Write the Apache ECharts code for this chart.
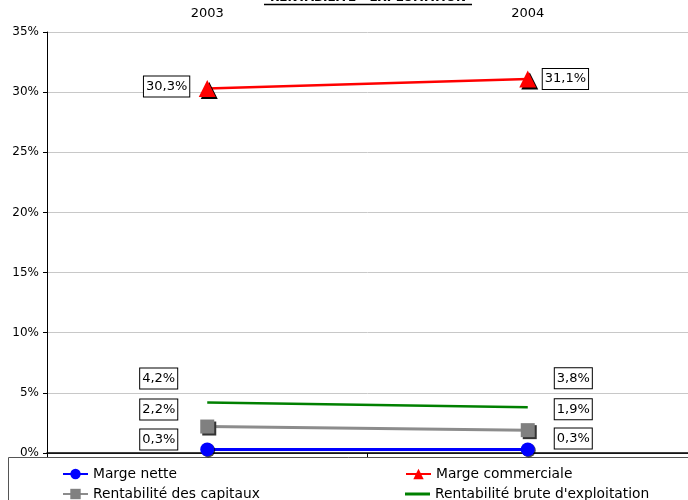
<!DOCTYPE html>
<html>
<head>
<meta charset="utf-8">
<script src="https://cdn.jsdelivr.net/npm/echarts@6/dist/echarts.min.js"></script>
<style>
  html, body { margin: 0; padding: 0; background: #fff; }
  #chart { width: 688px; height: 500px; }
</style>
</head>
<body>
<div id="chart"></div>
<script>
// donnees
const years = ['2003', '2004']
const margeNette = [0.3, 0.3]
const margeCommerciale = [30.3, 31.1]
const rentaCapitaux = [2.2, 1.9]
const rentaBrute = [4.2, 3.8]

const FONT = 'DejaVu Sans'
const fmt = function (p) {
  return p.value.toFixed(1).replace('.', ',') + '%'
}

// label encadre, a gauche pour 2003 et a droite pour 2004
function boxLabel (pos, dist, dy) {
  return {
    show: true,
    position: pos,
    distance: dist,
    offset: [0, dy],
    formatter: fmt,
    color: '#000',
    fontFamily: FONT,
    fontSize: 13,
    backgroundColor: '#fff',
    borderColor: '#000',
    borderWidth: 1,
    padding: [4, 2, 3, 2]
  }
}

// lay = [distance 2003, decalage y 2003, distance 2004, decalage y 2004]
function points (values, lay) {
  return values.map(function (v, i) {
    return {
      value: v,
      label: i === 0 ? boxLabel('left', lay[0], lay[1]) : boxLabel('right', lay[2], lay[3])
    }
  })
}

function legendItem (name, left, top, extra) {
  return Object.assign({
    left: left,
    top: top,
    padding: 0,
    itemWidth: 25,
    itemHeight: 13,
    textStyle: { fontSize: 13.8, color: '#000' },
    data: [name]
  }, extra || {})
}

const dom = echarts.init(document.getElementById('chart'))
const option = {
  animation: false,
  textStyle: { fontFamily: FONT },
  grid: { left: 47, right: -4, top: 32, bottom: 47 },
  xAxis: [
    {
      type: 'category',
      data: years,
      position: 'top',
      axisLine: { show: true, lineStyle: { color: '#555', width: 1 } },
      axisTick: { show: false },
      axisLabel: { color: '#000', fontSize: 13, margin: 12 }
    },
    {
      type: 'category',
      data: years,
      position: 'bottom',
      axisLine: { show: true, lineStyle: { color: '#000', width: 1.5 } },
      axisTick: { show: true, length: 4, lineStyle: { color: '#000' } },
      axisLabel: { show: false }
    }
  ],
  yAxis: {
    type: 'value',
    min: 0,
    max: 35,
    interval: 5,
    axisLine: { show: true, lineStyle: { color: '#000' } },
    axisTick: { show: true, length: 4, lineStyle: { color: '#000' } },
    axisLabel: { formatter: '{value}%', color: '#000', fontSize: 12, margin: 8 },
    splitLine: { lineStyle: { color: '#c8c8c8' } }
  },
  legend: [
    legendItem('Marge nette', 62, 467),
    legendItem('Rentabilité des capitaux', 62, 487),
    legendItem('Marge commerciale', 405, 467),
    legendItem("Rentabilité brute d'exploitation", 405, 487, { icon: 'rect', itemHeight: 3 })
  ],
  graphic: [
    {
      type: 'rect',
      shape: { x: 8.5, y: 457.5, width: 700, height: 60 },
      style: { fill: 'none', stroke: '#555', lineWidth: 1 },
      silent: true
    },
    {
      type: 'text',
      x: 368,
      y: 4,
      style: {
        text: 'RENTABILITÉ - EXPLOITATION',
        fontFamily: FONT,
        fontWeight: 'bold',
        fontSize: 12,
        fill: '#000',
        align: 'center',
        verticalAlign: 'bottom'
      }
    },
    {
      type: 'line',
      shape: { x1: 264, y1: 4.5, x2: 472, y2: 4.5 },
      style: { stroke: '#000', lineWidth: 1.5 }
    }
  ],
  series: [
    {
      name: 'Marge nette',
      type: 'line',
      data: points(margeNette, [23, -10, 20, -11]),
      symbol: 'circle',
      symbolSize: 14,
      lineStyle: { color: '#0000ff', width: 3 },
      itemStyle: { color: '#0000ff', shadowColor: 'rgba(0,0,0,0.7)', shadowOffsetX: 1, shadowOffsetY: 1 },
      z: 5
    },
    {
      name: 'Marge commerciale',
      type: 'line',
      data: points(margeCommerciale, [9.5, -2, 6.5, 0]),
      symbol: 'triangle',
      symbolSize: 17,
      lineStyle: { color: '#ff0000', width: 2.5 },
      itemStyle: { color: '#ff0000', shadowColor: '#000', shadowOffsetX: 2, shadowOffsetY: 2 },
      z: 4
    },
    {
      name: 'Rentabilité des capitaux',
      type: 'line',
      data: points(rentaCapitaux, [23, -17, 20, -21]),
      symbol: 'rect',
      symbolSize: 14,
      lineStyle: { color: '#8c8c8c', width: 3 },
      itemStyle: { color: '#808080', shadowColor: '#333', shadowOffsetX: 2, shadowOffsetY: 2 },
      z: 3
    },
    {
      name: "Rentabilité brute d'exploitation",
      type: 'line',
      data: points(rentaBrute, [30, -24, 27, -29]),
      symbol: 'circle',
      symbolSize: 0.1,
      lineStyle: { color: '#008000', width: 2.5 },
      itemStyle: { color: '#008000' },
      z: 2
    }
  ]
}
dom.setOption(option)
window.addEventListener('resize', function () { dom.resize() })
</script>
</body>
</html>
